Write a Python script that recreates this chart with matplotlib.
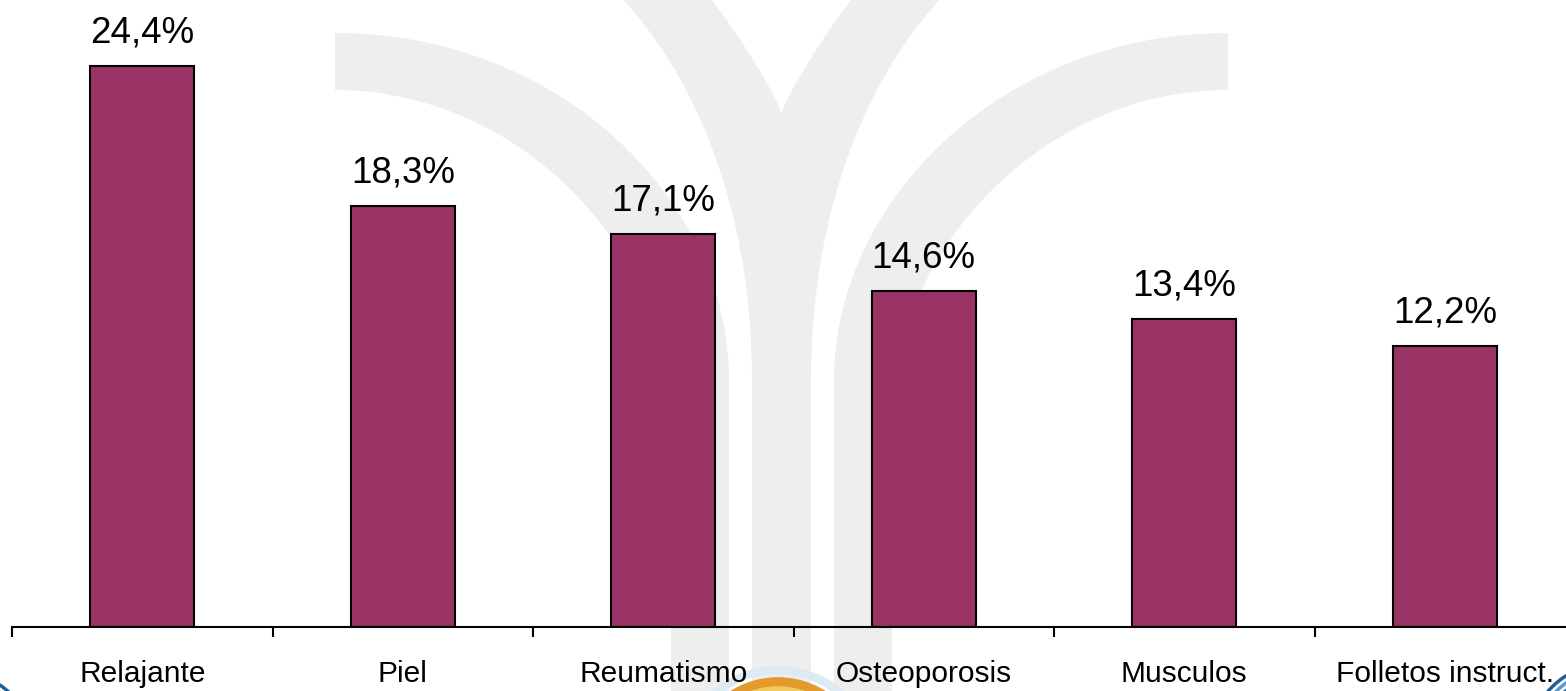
import matplotlib
matplotlib.use("Agg")
import matplotlib.pyplot as plt
from matplotlib.path import Path
from matplotlib.patches import PathPatch, Circle

categories = ["Relajante", "Piel", "Reumatismo", "Osteoporosis", "Musculos", "Folletos instruct."]
values = [24.4, 18.3, 17.1, 14.6, 13.4, 12.2]
value_labels = ["24,4%", "18,3%", "17,1%", "14,6%", "13,4%", "12,2%"]

plt.rcParams['font.family'] = ['Liberation Sans', 'DejaVu Sans']

W, H = 1566, 691
fig = plt.figure(figsize=(W / 100, H / 100), dpi=100)
fig.patch.set_facecolor("white")

# ---- background watermark (decorative) ----
bg = fig.add_axes([0, 0, 1, 1], zorder=0)
bg.set_xlim(0, W)
bg.set_ylim(H, 0)
bg.axis("off")
wm = "#eeeeee"

cx = 781.5
def mirror(pts):
    return [(2 * cx - x, y) for x, y in pts]

# left arc band (and its mirror on the right)
left_pts = [(335, 33), (560, 33), (729, 200), (729, 380), (729, 700),
            (671, 700), (671, 420), (671, 250), (520, 90), (335, 90)]
codes_arc = ([Path.MOVETO] + [Path.CURVE4] * 3 + [Path.LINETO, Path.LINETO, Path.LINETO]
             + [Path.CURVE4] * 3)
for pts in (left_pts, mirror(left_pts)):
    p = Path(pts + [pts[0]], codes_arc + [Path.CLOSEPOLY])
    bg.add_patch(PathPatch(p, facecolor=wm, edgecolor="none"))

# central Y
ypts = [(619, -5), (690, 70), (752, 200), (752, 380), (752, 700),
        (811, 700), (811, 380), (811, 200), (873, 70), (944, -5),
        (855, -5), (820, 40), (790, 90), (781.5, 113),
        (773, 90), (743, 40), (708, -5)]
ycodes = ([Path.MOVETO] + [Path.CURVE4] * 3 + [Path.LINETO, Path.LINETO, Path.LINETO]
          + [Path.CURVE4] * 3 + [Path.LINETO] + [Path.CURVE4] * 3 + [Path.CURVE4] * 3)
p = Path(ypts + [ypts[0]], ycodes + [Path.CLOSEPOLY])
bg.add_patch(PathPatch(p, facecolor=wm, edgecolor="none"))

# bottom logo fragments
bg.add_patch(Circle((778, 766), 96, facecolor="none", edgecolor="#dbeaf5", lw=6))
bg.add_patch(Circle((778, 766), 84, facecolor="none", edgecolor="#e39a2c", lw=7))
bg.add_patch(Circle((778, 766), 77, facecolor="none", edgecolor="#f2c95e", lw=4))
for r, c in [(60, "#2a6fa8"), (66, "#5b9bd0"), (72, "#1f5f97")]:
    bg.add_patch(Circle((-40, 745), r, facecolor="none", edgecolor=c, lw=2.5))
    bg.add_patch(Circle((1610, 745), r + 10, facecolor="none", edgecolor=c, lw=2.5))

# ---- bar chart ----
step = 260.5
ax = fig.add_axes([12 / W, 64 / H, 6 * step / W, 627 / H], zorder=1)
ax.set_facecolor("none")
x = list(range(len(categories)))
bars = ax.bar(x, values, width=0.4, color="#993366", edgecolor="black", linewidth=1.5, zorder=2)
ax.set_xlim(-0.5, 5.5)
ax.set_ylim(0, 627 / 23.0)

for b, lab in zip(bars, value_labels):
    ax.annotate(lab, (b.get_x() + b.get_width() / 2, b.get_height()),
                xytext=(0, 17), textcoords="offset points",
                ha="center", va="baseline", fontsize=26.5, color="black")

for s in ("left", "right", "top"):
    ax.spines[s].set_visible(False)
ax.spines["bottom"].set_linewidth(1.5)
ax.set_yticks([])
ax.set_xticks(x)
ax.set_xticklabels(categories, fontsize=21.5)
ax.tick_params(axis="x", which="major", length=0, pad=24)
ax.set_xticks([i - 0.5 for i in range(len(categories) + 1)], minor=True)
ax.tick_params(axis="x", which="minor", length=7.5, width=1.5, direction="out")

fig.savefig("out.png", dpi=100)
